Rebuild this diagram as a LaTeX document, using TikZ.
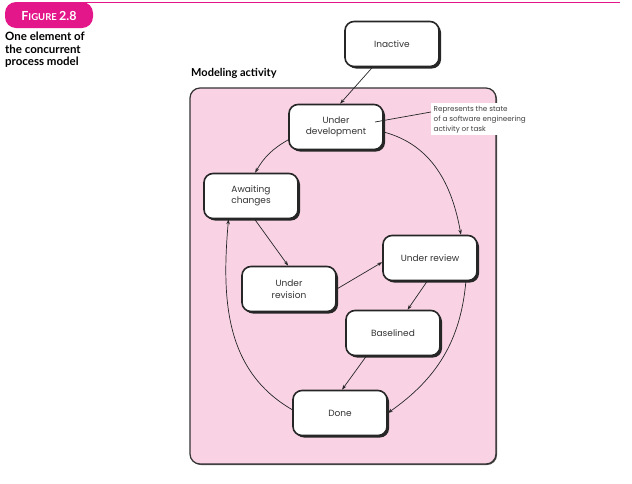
\documentclass[tikz,border=0pt]{standalone}
\usepackage{fontspec}
\setmainfont{Poppins}
\newfontfamily\capfont{Lato}
\usetikzlibrary{arrows.meta,shadows}
\definecolor{magentapink}{HTML}{E4178A}
\definecolor{softpink}{HTML}{F9D3E4}
\colorlet{boxline}{black!85}

\tikzset{
  state/.style={draw=boxline, line width=1.6pt, fill=white, rounded corners=9pt,
    minimum width=94pt, minimum height=45pt, align=center, text=black!80,
    font=\fontsize{9}{11.5}\selectfont,
    drop shadow={shadow xshift=2pt, shadow yshift=-2pt, fill=boxline, opacity=1}},
  flow/.style={-{Stealth[length=5pt,width=3.5pt]}, line width=0.7pt, draw=black!85},
}

\begin{document}
\begin{tikzpicture}[x=1pt, y=-1pt]
    \useasboundingbox (0,0) rectangle (632,483);
    % header
    \draw[magentapink, line width=1pt] (60,2.5) -- (620,2.5);
    \fill[magentapink, rounded corners=11pt] (5,2) rectangle (93,28);
    \node[text=white, font=\capfont\bfseries] (figno) at (49,16)
        {\fontsize{12.5}{12}\selectfont F\fontsize{9.5}{12}\selectfont IGURE \fontsize{12.5}{12}\selectfont 2.8};
    \node[anchor=north west, align=left, inner sep=0pt, font=\capfont\bfseries\fontsize{11.5}{12.5}\selectfont] (caption) at (5,32)
        {One element of\\the concurrent\\process model};
    % modeling activity
    \node[anchor=south west, inner sep=0pt, font=\capfont\bfseries\fontsize{11}{12}\selectfont] (title) at (191,79) {Modeling activity};
    \fill[softpink, draw=black!80, line width=1.2pt, rounded corners=10pt,
        drop shadow={shadow xshift=1pt, shadow yshift=-1pt, fill=black!70, opacity=1}] (190,88) rectangle (496,464);
    % states
    \node[state] (inactive) at (392,44) {Inactive};
    \node[state] (underdev) at (336,127) {Under\\development};
    \node[state] (awaiting) at (251,196) {Awaiting\\changes};
    \node[state] (review) at (430,258) {Under review};
    \node[state] (revision) at (289,289) {Under\\revision};
    \node[state] (baselined) at (393,333) {Baselined};
    \node[state] (done) at (340,413) {Done};
    % note
    \node[anchor=north west, fill=white, align=left, inner sep=2.5pt, text=black!75,
        font=\fontsize{7.2}{10}\selectfont] (note) at (431,103)
        {Represents the state\\of a software engineering\\activity or task};
    \coordinate (pin) at (375,122);
    \draw[line width=0.7pt, black!85] (pin) -- ([yshift=-9pt]note.north west);
    % transitions
    \draw[flow] (inactive.230) -- (underdev.80);
    \draw[flow] (underdev.195) to[bend right=15] (awaiting.80);
    \draw[flow] (underdev.354) to[out=-15, in=100] (review.37);
    \draw[flow] (awaiting.279) -- (revision.92);
    \draw[flow] (revision.east) -- (review.185);
    \draw[flow] (review.263) -- (baselined.58);
    \draw[flow] (baselined.221) -- (done.85);
    \draw[flow] (review.327) to[out=-95, in=35] (done.east);
    \draw[flow] (done.176) to[out=150, in=-95] (awaiting.226);
\end{tikzpicture}
\end{document}
